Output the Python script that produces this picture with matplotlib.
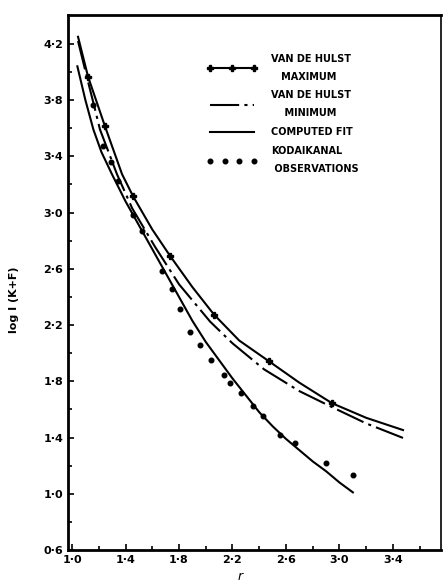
import matplotlib
matplotlib.use("Agg")
import matplotlib.pyplot as plt
from matplotlib.legend_handler import HandlerLine2D

# ---- data ----
fit_r = [1.04, 1.10, 1.16, 1.22, 1.30, 1.40, 1.50, 1.60, 1.70, 1.80, 1.90, 2.00,
         2.10, 2.20, 2.30, 2.40, 2.50, 2.60, 2.70, 2.80, 2.90, 3.00, 3.10]
fit_v = [4.04, 3.80, 3.59, 3.43, 3.27, 3.08, 2.91, 2.74, 2.57, 2.40, 2.23, 2.08,
         1.95, 1.82, 1.70, 1.58, 1.48, 1.39, 1.31, 1.23, 1.16, 1.08, 1.01]

max_r = [1.045, 1.12, 1.247, 1.374, 1.456, 1.60, 1.733, 1.90, 2.062, 2.25, 2.473,
         2.70, 2.944, 3.20, 3.475]
max_v = [4.25, 3.966, 3.612, 3.273, 3.117, 2.88, 2.692, 2.47, 2.274, 2.09, 1.942,
         1.79, 1.644, 1.54, 1.453]
max_marks = [1, 2, 4, 6, 8, 10, 12]

min_r = [1.045, 1.12, 1.16, 1.209, 1.336, 1.45, 1.621, 1.80, 2.032, 2.20, 2.436,
         2.70, 2.929, 3.20, 3.475]
min_v = [4.22, 3.93, 3.78, 3.591, 3.273, 3.03, 2.756, 2.49, 2.225, 2.07, 1.885,
         1.73, 1.623, 1.50, 1.397]

obs_r = [1.157, 1.232, 1.292, 1.344, 1.456, 1.523, 1.673, 1.748, 1.807, 1.882,
         1.957, 2.039, 2.136, 2.181, 2.264, 2.353, 2.428, 2.555, 2.667, 2.899, 3.101]
obs_v = [3.768, 3.471, 3.358, 3.223, 2.982, 2.869, 2.586, 2.458, 2.317, 2.154,
         2.055, 1.949, 1.843, 1.786, 1.715, 1.623, 1.552, 1.418, 1.361, 1.220, 1.135]

x_ticks = [1.0, 1.4, 1.8, 2.2, 2.6, 3.0, 3.4]
y_ticks = [0.6, 1.0, 1.4, 1.8, 2.2, 2.6, 3.0, 3.4, 3.8, 4.2]
x_tick_labels = ["1·0", "1·4", "1·8", "2·2", "2·6", "3·0", "3·4"]
y_tick_labels = ["0·6", "1·0", "1·4", "1·8", "2·2", "2·6", "3·0", "3·4", "3·8", "4·2"]

labels = ["VAN DE HULST\n   MAXIMUM", "VAN DE HULST\n    MINIMUM",
          "COMPUTED FIT", "KODAIKANAL\n OBSERVATIONS"]

# ---- figure ----
plt.rcParams['font.family'] = ['DejaVu Sans']
fig = plt.figure(figsize=(4.43, 5.86), dpi=100)
ax = fig.add_axes([68/443, 1-550/586, (441-68)/443, (550-15)/586])

lw = 1.5
l_max, = ax.plot(max_r, max_v, color='black', lw=lw, marker='P', ms=4.5,
                 markevery=max_marks)
l_min, = ax.plot(min_r, min_v, color='black', lw=lw, dashes=(14, 2.5, 1.5, 2.5))
l_fit, = ax.plot(fit_r, fit_v, color='black', lw=lw)
l_obs, = ax.plot(obs_r, obs_v, color='black', ls='none', marker='o', ms=3.3)

ax.set_xlim(0.97, 3.759)
ax.set_ylim(0.6, 4.405)

ax.set_xticks(x_ticks)
ax.set_xticklabels(x_tick_labels)
ax.set_yticks(y_ticks)
ax.set_yticklabels(y_tick_labels)
ax.set_xticks([1.2, 1.6, 2.0, 2.4, 2.8, 3.2, 3.6], minor=True)
ax.set_yticks([0.8, 1.2, 1.6, 2.0, 2.4, 2.8, 3.2, 3.6, 4.0], minor=True)
ax.tick_params(which='both', direction='in', length=4, width=1.2, color='black',
               labelsize=8)
ax.tick_params(which='minor', length=3)
for lab in ax.get_xticklabels() + ax.get_yticklabels():
    lab.set_fontweight('bold')

for s in ['left', 'bottom', 'top']:
    ax.spines[s].set_linewidth(2.0)
ax.spines['right'].set_linewidth(1.2)

ax.set_ylabel("log I (K+F)", fontsize=8, fontweight='bold')
ax.yaxis.set_label_coords(-(68-19)/373, (550-300)/535)
ax.set_xlabel("r", fontsize=9, fontstyle='italic')
ax.xaxis.set_label_coords((240-68)/373, -(570-550)/535)

leg = ax.legend([l_max, l_min, l_fit, l_obs], labels, loc='upper left',
                bbox_to_anchor=((198-68)/373, 1-(45-15)/535), frameon=False,
                fontsize=7, handlelength=5.2, handletextpad=1.4,
                labelspacing=0.9, numpoints=3,
                handler_map={l_obs: HandlerLine2D(numpoints=4)})
for t in leg.get_texts():
    t.set_fontweight('bold')
    t.set_linespacing(2.0)

fig.savefig("out.png", dpi=100)
